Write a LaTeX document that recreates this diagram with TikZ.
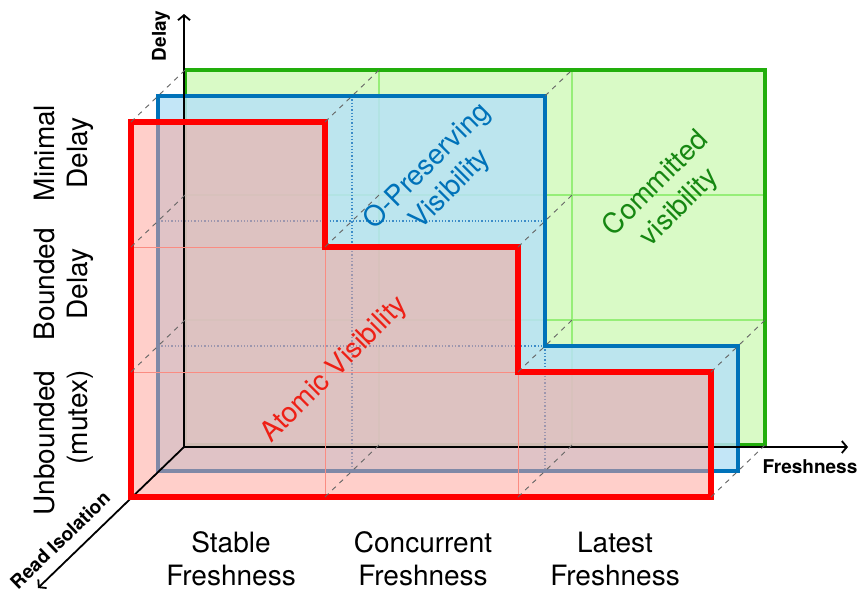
\documentclass[tikz,border=0pt]{standalone}
\usepackage{fontspec}
\setmainfont{TeX Gyre Heros}
\usetikzlibrary{arrows.meta}
\definecolor{comgreen}{RGB}{34,174,12}
\definecolor{comfill}{RGB}{217,250,198}
\definecolor{comgrid}{RGB}{150,238,120}
\definecolor{comtext}{RGB}{22,135,18}
\definecolor{oblue}{RGB}{0,114,185}
\definecolor{ofill}{RGB}{184,226,246}
\definecolor{odot}{RGB}{60,140,200}
\definecolor{atred}{RGB}{255,0,0}
\definecolor{atfill}{RGB}{255,160,150}
\definecolor{atgrid}{RGB}{250,140,130}
\definecolor{attext}{RGB}{238,32,22}
\newcommand{\lblfont}{\fontsize{28}{33}\selectfont}
\newcommand{\axfont}{\fontsize{19}{22}\selectfont\bfseries}
\tikzset{
    axisline/.style={black, line width=1.8pt, -{Straight Barb[length=5pt,width=12pt]}},
    tieline/.style={black!60, dashed, line width=0.9pt, dash pattern=on 5pt off 5pt},
}

\begin{document}
\begin{tikzpicture}[x=1pt, y=-1pt]
\useasboundingbox (0,0) rectangle (861,592);

% Committed visibility (back plane)
\begin{scope}
    \fill[comfill] (185,70) rectangle (765,445);
    \draw[comgrid, line width=1.1pt] (379,70) -- (379,445) (572,70) -- (572,445);
    \draw[comgrid, line width=1.1pt] (185,195) -- (765,195) (185,320) -- (765,320);
    \draw[comgreen, line width=3.3pt] (185,70) rectangle (765,445);
    % Defining nodes.
    \coordinate (G00) at (185,70);
    \coordinate (G10) at (379,70);
    \coordinate (G20) at (572,70);
    \coordinate (G01) at (185,195);
    \coordinate (G11) at (379,195);
    \coordinate (G21) at (572,195);
    \coordinate (G02) at (185,320);
    \coordinate (G22) at (572,320);
    \coordinate (G32) at (765,320);
    \coordinate (G13) at (379,445);
    \coordinate (G23) at (572,445);
    \coordinate (G33) at (765,445);
\end{scope}

% O-Preserving visibility (middle plane)
\begin{scope}
    \fill[ofill, fill opacity=0.85] (158,96) -- (545,96) -- (545,346) -- (738,346) -- (738,471) -- (158,471) -- cycle;
    \draw[odot, dotted, line width=1.3pt] (158,221) -- (545,221) (158,346) -- (738,346);
    \draw[odot, dotted, line width=1.3pt] (352,96) -- (352,471) (545,346) -- (545,471);
    \draw[oblue, line width=4.5pt] (158,96) -- (545,96) -- (545,346) -- (738,346) -- (738,471) -- (158,471) -- cycle;
    \coordinate (B20) at (545,96);
\end{scope}

% Atomic visibility (front plane)
\begin{scope}
    \fill[atfill, fill opacity=0.5] (131,122) -- (325,122) -- (325,247) -- (518,247) -- (518,372) -- (711,372) -- (711,497) -- (131,497) -- cycle;
    % axes
    \coordinate (O) at (184,447);
    \coordinate (delaytip) at (184,14);
    \coordinate (freshtip) at (848,447);
    \coordinate (readtip) at (38,588);
    \draw[axisline] (O) -- (delaytip);
    \draw[axisline] (O) -- (freshtip);
    \draw[axisline] (O) -- (readtip);
    \draw[atgrid, line width=1pt] (131,247) -- (325,247) (131,372) -- (518,372);
    \draw[atgrid, line width=1pt] (325,247) -- (325,497) (518,372) -- (518,497);
    \draw[atred, line width=6pt] (131,122) -- (325,122) -- (325,247) -- (518,247) -- (518,372) -- (711,372) -- (711,497) -- (131,497) -- cycle;
    % Defining nodes.
    \coordinate (R00) at (131,122);
    \coordinate (R10) at (325,122);
    \coordinate (R01) at (131,247);
    \coordinate (R11) at (325,247);
    \coordinate (R21) at (518,247);
    \coordinate (R02) at (131,372);
    \coordinate (R22) at (518,372);
    \coordinate (R32) at (711,372);
    \coordinate (R13) at (325,497);
    \coordinate (R23) at (518,497);
    \coordinate (R33) at (711,497);
\end{scope}

% dashed ties between planes
\draw[tieline] (R00) -- (G00);
\draw[tieline] (R10) -- (G10);
\draw[tieline] (B20) -- (G20);
\draw[tieline] (R01) -- (G01);
\draw[tieline] (R11) -- (G11);
\draw[tieline] (R21) -- (G21);
\draw[tieline] (R02) -- (G02);
\draw[tieline] (R22) -- (G22);
\draw[tieline] (R32) -- (G32);
\draw[tieline] (R13) -- (G13);
\draw[tieline] (R23) -- (G23);
\draw[tieline] (R33) -- (G33);

% axis labels
\node[rotate=90, font=\axfont] (delay) at (161,36) {Delay};
\node[font=\axfont] (fresh) at (810,467) {Freshness};
\node[rotate=44, font=\axfont] (read) at (60,540) {Read Isolation};

% delay levels
\node[rotate=90, align=center, font=\lblfont] (minimal) at (64,153) {Minimal\\Delay};
\node[rotate=90, align=center, font=\lblfont] (bounded) at (64,284) {Bounded\\Delay};
\node[rotate=90, align=right, font=\lblfont] (unbounded) at (64,443) {Unbounded\\(mutex)};

% freshness levels
\node[align=center, font=\lblfont] (stable) at (231,559) {Stable\\Freshness};
\node[align=center, font=\lblfont] (concurrent) at (423,559) {Concurrent\\Freshness};
\node[align=center, font=\lblfont] (latest) at (615,559) {Latest\\Freshness};

% plane titles
\node[rotate=45, align=center, font=\lblfont, text=oblue] (otitle) at (439,178) {O-Preserving\\Visibility};
\node[rotate=45, align=center, font=\lblfont, text=comtext] (ctitle) at (668,196) {Committed\\visibility};
\node[rotate=45, font=\lblfont, text=attext] (atitle) at (335,370) {Atomic Visibility};

\end{tikzpicture}
\end{document}
